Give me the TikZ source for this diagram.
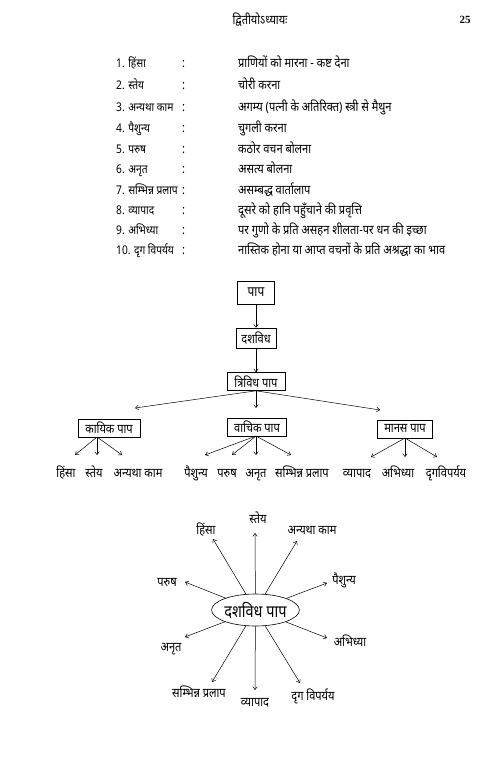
\documentclass[tikz,border=0pt]{standalone}
\usepackage{fontspec}
\newfontfamily\dev[Script=Devanagari,FakeStretch=0.85]{Noto Sans}
\newfontfamily\serifb{Liberation Serif}
\usetikzlibrary{arrows.meta,shapes.geometric}
\begin{document}
\begin{tikzpicture}[x=1pt,y=-1pt,
  txt/.style={inner sep=0pt,font=\dev\fontsize{13}{15}\selectfont},
  lst/.style={txt,anchor=base west},
  lvl/.style={draw,line width=0.6pt,inner sep=1pt,font=\dev\fontsize{13}{15}\selectfont},
  arr/.style={line width=0.5pt,-{Straight Barb[length=3pt,width=4.5pt]}},
  leaf/.style={txt,anchor=base},
  ray/.style={txt,anchor=base}]
\useasboundingbox (0,0) rectangle (500,772);
% header
\node[inner sep=0pt,anchor=base,font=\dev\bfseries\fontsize{13}{16}\selectfont] (hdr) at (260,24) {द्वितीयोऽध्यायः};
\node[inner sep=0pt,anchor=base,font=\serifb\bfseries\fontsize{11}{12}\selectfont] (pg) at (465,23) {25};
% list
\foreach \i/\y/\a/\b in {1/67.5/हिंसा/प्राणियों को मारना - कष्ट देना,
  2/89.5/स्तेय/चोरी करना,
  3/111.5/अन्यथा काम/अगम्य (पत्नी के अतिरिक्त) स्त्री से मैथुन,
  4/132.5/पैशुन्य/चुगली करना,
  5/153.5/परुष/कठोर वचन बोलना,
  6/173.5/अनृत/असत्य बोलना,
  7/194.5/सम्भिन्न प्रलाप/असम्बद्ध वार्तालाप,
  8/214.5/व्यापाद/दूसरे को हानि पहुँचाने की प्रवृत्ति,
  9/234.5/अभिध्या/पर गुणो के प्रति असहन शीलता-पर धन की इच्छा,
  10/254.5/दृग विपर्यय/नास्तिक होना या आप्त वचनों के प्रति अश्रद्धा का भाव}{
  \node[lst,font=\dev\fontsize{12}{14}\selectfont] (n\i) at (116,\y) {\i. \a};
  \node[lst] (c\i) at (182,\y) {:};
  \node[lst] (d\i) at (238,\y) {\b};
}
% hierarchy
\node[lvl,minimum width=37pt,minimum height=23pt,font=\dev\fontsize{14}{16}\selectfont] (pap) at (256,292.5) {पाप};
\node[lvl,minimum width=40pt,minimum height=20pt] (dash) at (256,338) {दशविध};
\node[lvl,minimum width=58pt,minimum height=18pt] (tri) at (256,381.5) {त्रिविध पाप};
\node[lvl,minimum width=62pt,minimum height=18pt] (kay) at (109,428) {कायिक पाप};
\node[lvl,minimum width=59pt,minimum height=18pt] (vac) at (257,427) {वाचिक पाप};
\node[lvl,minimum width=55pt,minimum height=18pt] (man) at (405,429) {मानस पाप};
\draw[arr] (pap) -- (dash);
\draw[arr] (dash) -- (tri);
\coordinate (tk) at (135,408);
\coordinate (tv) at (256,408);
\coordinate (tm) at (380,410);
\draw[arr] (tri.south) -- (tk);
\draw[arr] (tri.south) -- (tv);
\draw[arr] (tri.south) -- (tm);
% leaves
\foreach \n/\x/\t in {l1/66/हिंसा,l2/94/स्तेय,l3/138/अन्यथा काम,
  l4/196/पैशुन्य,l5/227/परुष,l6/256/अनृत,l7/302/सम्भिन्न प्रलाप,
  l8/357/व्यापाद,l9/398/अभिध्या,l10/446/दृगविपर्यय}{
  \node[leaf] (\n) at (\x,477.5) {\t};
}
\coordinate (ko) at (97,437);
\coordinate (vo) at (256,436);
\coordinate (mo) at (405,438);
\foreach \o/\x/\y in {ko/75/455,ko/97/455,ko/122/455,
  vo/205/455,vo/232/455,vo/256/455,vo/291/455,
  mo/371/457,mo/405/457,mo/437/457}{
  \draw[arr] (\o) -- (\x,\y);
}
% radial
\node[draw,ellipse,line width=0.6pt,minimum width=85pt,minimum height=32pt,inner sep=0pt,font=\dev\fontsize{17}{19}\selectfont] (e) at (255.5,610) {दशविध पाप};
\foreach \n/\x/\y/\t/\tx/\ty in {
  r1/258/523/स्तेय/255/533,
  r2/206/534.5/हिंसा/213/539,
  r3/312/534.5/अन्यथा काम/297/541,
  r4/167/586.5/परुष/185/582,
  r5/344/584.5/पैशुन्य/327/583,
  r6/171/651.5/अनृत/185/637,
  r7/350/646.5/अभिध्या/327/638,
  r8/199/697.5/सम्भिन्न प्रलाप/212/682,
  r9/255/706.5/व्यापाद/255/690,
  r10/313/700.5/दृग विपर्यय/300/683}{
  \node[ray] (\n) at (\x,\y) {\t};
  \coordinate (t\n) at (\tx,\ty);
  \draw[arr] (e) -- (t\n);
}
\end{tikzpicture}
\end{document}
